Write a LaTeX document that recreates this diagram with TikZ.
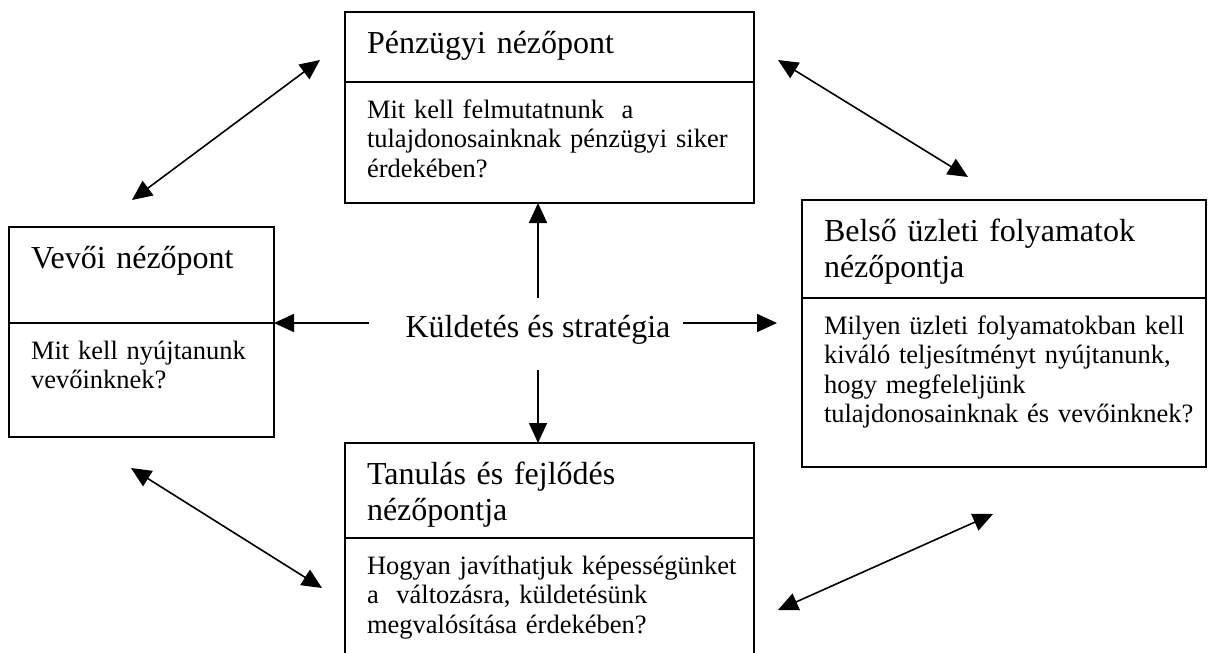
\documentclass[tikz,border=0pt]{standalone}
\usepackage{fontspec}
\setmainfont{Liberation Serif}
\usetikzlibrary{arrows.meta,positioning}

\begin{document}
\begin{tikzpicture}[
            x=1pt, y=-1pt,
            node distance=0pt,
            part/.style={draw, line width=1.6pt, anchor=north west, align=left, inner xsep=22pt, inner ysep=0pt, outer sep=0pt},
            head/.style={part, font=\fontsize{32pt}{36.7pt}\selectfont, text height=41pt},
            ask/.style={part, font=\fontsize{26.5pt}{29.5pt}\selectfont, text height=36pt},
            core/.style={font=\fontsize{32pt}{36.7pt}\selectfont, inner sep=0pt, text height=22pt, text depth=7pt},
            arrow/.style={-{Triangle[length=20pt,width=18pt]}, line width=1.6pt},
            link/.style={{Triangle[length=20pt,width=18pt]}-{Triangle[length=20pt,width=18pt]}, line width=1.6pt}
        ]
        \useasboundingbox (0,0) rectangle (1208,653);
        \clip (0,0) rectangle (1208,653);
        \fill[white] (0,0) rectangle (1208,653);
        \node[head, text width=365pt, text depth=29pt] (fin) at (345,12) {\mbox{Pénzügyi nézőpont}};
        \node[ask, text width=365pt, text depth=85pt, below=of fin] (finq) {\mbox{Mit kell felmutatnunk~ a}\\\mbox{tulajdonosainknak pénzügyi siker}\\\mbox{érdekében?}};
        \node[head, text width=221pt, text depth=55pt] (cust) at (9,227) {\mbox{Vevői nézőpont}};
        \node[ask, text width=221pt, text depth=78pt, below=of cust] (custq) {\mbox{Mit kell nyújtanunk}\\\mbox{vevőinknek?}};
        \node[head, text width=360pt, text depth=57pt] (proc) at (802,200) {\mbox{Belső üzleti folyamatok}\\\mbox{nézőpontja}};
        \node[ask, text width=360pt, text depth=133pt, below=of proc] (procq) {\mbox{Milyen üzleti folyamatokban kell}\\\mbox{kiváló teljesítményt nyújtanunk,}\\\mbox{hogy megfeleljünk}\\\mbox{tulajdonosainknak és vevőinknek?}};
        \node[head, text width=365pt, text depth=54pt] (learn) at (345,443) {\mbox{Tanulás és fejlődés}\\\mbox{nézőpontja}};
        \node[ask, text width=365pt, text depth=114pt, below=of learn] (learnq) {\mbox{Hogyan javíthatjuk képességünket}\\\mbox{a~ változásra, küldetésünk}\\\mbox{megvalósítása érdekében?}};
        \node[core, anchor=base] (mission) at (538,337) {Küldetés és stratégia};
        \coordinate (procin) at (777,323);
        \draw[arrow, shorten <=17pt] (mission.north) -- (mission.north |- finq.south);
        \draw[arrow, shorten <=26pt] (mission.south) -- (mission.south |- learn.north);
        \draw[arrow, shorten <=36pt] (mission.west |- cust.south east) -- (cust.south east);
        \draw[arrow, shorten <=12pt] (mission.east |- cust.south east) -- (procin);
        \coordinate (fc1) at (132,200);
        \coordinate (fc2) at (320,60);
        \coordinate (fp1) at (778,60);
        \coordinate (fp2) at (968,177);
        \coordinate (cl1) at (131,468);
        \coordinate (cl2) at (322,588);
        \coordinate (lp1) at (778,610);
        \coordinate (lp2) at (993,514);
        \draw[link] (fc1) -- (fc2);
        \draw[link] (fp1) -- (fp2);
        \draw[link] (cl1) -- (cl2);
        \draw[link] (lp1) -- (lp2);
\end{tikzpicture}
\end{document}
